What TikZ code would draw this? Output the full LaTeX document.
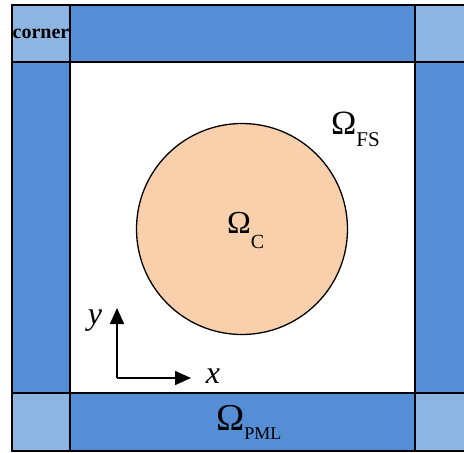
\documentclass[tikz,border=0pt]{standalone}
\usepackage{fontspec}
\setmainfont{Liberation Serif}
\usetikzlibrary{arrows.meta}
\definecolor{pmlblue}{RGB}{85,142,213}
\definecolor{cornerblue}{RGB}{142,180,226}
\definecolor{peach}{RGB}{250,207,172}
\begin{document}
\begin{tikzpicture}[x=1pt,y=-1pt,
  tile/.style={draw=black,line width=1.3pt},
  omega/.style={inner sep=0pt,anchor=base west},
  axis/.style={line width=1.6pt,-{Triangle[length=16pt,width=14pt]}}]
\useasboundingbox (0,0) rectangle (464,453);
% PML strips
\fill[pmlblue] (70,5) rectangle (415,62);
\fill[pmlblue] (70,393) rectangle (415,451);
\fill[pmlblue] (12,62) rectangle (70,393);
\fill[pmlblue] (415,62) rectangle (473,393);
% corners
\fill[cornerblue] (12,5) rectangle (70,62);
\fill[cornerblue] (415,5) rectangle (473,62);
\fill[cornerblue] (12,393) rectangle (70,451);
\fill[cornerblue] (415,393) rectangle (473,451);
% lines
\draw[tile] (12,5) rectangle (473,451);
\draw[tile] (70,5) -- (70,451);
\draw[tile] (415,5) -- (415,451);
\draw[tile] (12,62) -- (473,62);
\draw[tile] (12,393) -- (473,393);
% corner label
\node[inner sep=0pt] (cornerlbl) at (41,34) {\fontsize{20}{20}\selectfont\bfseries corner};
% circle
\draw[line width=1.3pt,fill=peach] (242,229) circle (105.5);
% labels
\node[omega] (omc) at (227,233) {\fontsize{32}{32}\selectfont Ω\raisebox{-15pt}{\fontsize{20}{20}\selectfont C}};
\node[omega] (omfs) at (331,134) {\fontsize{34}{34}\selectfont Ω\raisebox{-12pt}{\fontsize{21}{21}\selectfont FS}};
\node[omega] (ompml) at (216,430) {\fontsize{38}{38}\selectfont Ω\raisebox{-9pt}{\fontsize{18}{18}\selectfont PML}};
% axes
\coordinate (o) at (117,378);
\coordinate (ytip) at (117,308);
\coordinate (xtip) at (191,378);
\draw[axis] (o) -- (ytip);
\draw[axis] (o) -- (xtip);
\node[inner sep=0pt] (ylbl) at (95,321) {\fontsize{32}{32}\selectfont\itshape y};
\node[inner sep=0pt] (xlbl) at (213,376) {\fontsize{32}{32}\selectfont\itshape x};
\end{tikzpicture}
\end{document}
